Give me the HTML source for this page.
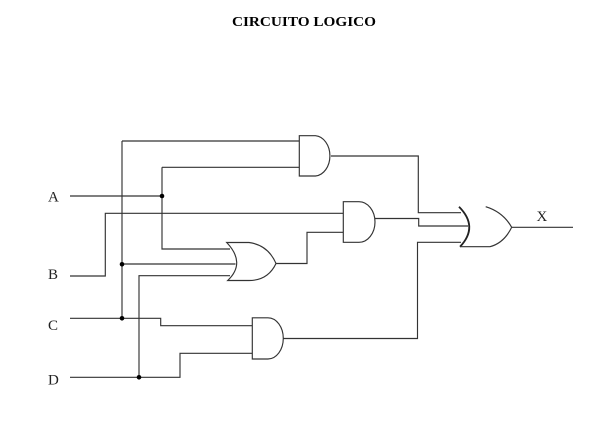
<!DOCTYPE html>
<html>
<head>
<meta charset="utf-8">
<style>
  html, body { margin: 0; padding: 0; background: #ffffff; }
  svg { display: block; }
</style>
</head>
<body>
<svg width="600" height="439" viewBox="0 0 600 439" xmlns="http://www.w3.org/2000/svg">
  <rect width="600" height="439" fill="#ffffff"/>
  <text x="304" y="26" text-anchor="middle" font-family="Liberation Serif, serif" font-weight="bold" font-size="14" textLength="144" lengthAdjust="spacingAndGlyphs" fill="#000">CIRCUITO LOGICO</text>

  <g font-family="Liberation Serif, serif" font-size="15" fill="#222">
    <text x="48" y="201.5">A</text>
    <text x="48" y="279">B</text>
    <text x="48" y="330">C</text>
    <text x="48" y="384.5">D</text>
    <text x="536.5" y="221">X</text>
  </g>

  <g fill="none" stroke="#333" stroke-width="1.15">
    <!-- wires -->
    <path d="M122,141 H299.5"/>
    <path d="M122,141 V318.3"/>
    <path d="M70,196 H162"/>
    <path d="M162,167.3 V249 H230"/>
    <path d="M162,167.3 H299.5"/>
    <path d="M70,276 H105.3 V213.3 H343.3"/>
    <path d="M122,264 H235.5"/>
    <path d="M139,377.3 V275.7 H230"/>
    <path d="M70,318.3 H160.7 V325.7 H252.3"/>
    <path d="M70,377.3 H180 V353.3 H252.3"/>
    <path d="M276,263.5 H307 V232.3 H343.3"/>
    <path d="M331,156 H418.3 V212.7 H461"/>
    <path d="M375,218.5 H418.7 V226 H468"/>
    <path d="M283.3,338.5 H417.5 V242.3 H461"/>
    <path d="M511.7,227.3 H573"/>

    <!-- AND gate 1 -->
    <path d="M299.3,135.7 H315.5 A15.5 20.2 0 0 1 315.5,176 H299.3 Z"/>
    <!-- AND gate 2 -->
    <path d="M343.3,201.7 H359 A16 20.3 0 0 1 359,242.3 H343.3 Z"/>
    <!-- AND gate 3 -->
    <path d="M252.3,317.8 H268 A15.3 20.6 0 0 1 268,359 H252.3 Z"/>

    <!-- OR gate 1 -->
    <path d="M226.7,242.5 H249 Q268,245 276,263.5 Q268,280.5 249,280.5 H227.7 Q246.2,263 226.7,242.5 Z"/>

    <!-- Final OR gate -->
    <path d="M459,206.7 Q479,226.7 460,246.7" stroke-width="1.8" stroke="#222"/>
    <path d="M485.7,206.7 Q503,212 511.7,227.3"/>
    <path d="M460,246.7 H490 Q504,243 511.7,227.3"/>
  </g>

  <g fill="#000">
    <circle cx="162" cy="196" r="2.3"/>
    <circle cx="122" cy="264.3" r="2.3"/>
    <circle cx="122" cy="318.3" r="2.3"/>
    <circle cx="139" cy="377.3" r="2.3"/>
  </g>
</svg>
</body>
</html>
